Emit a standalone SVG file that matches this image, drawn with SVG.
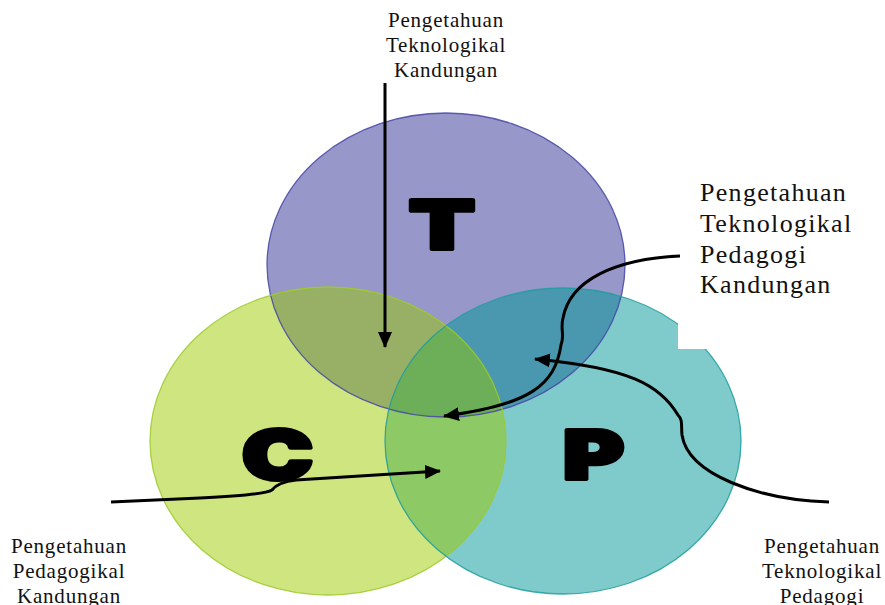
<svg xmlns="http://www.w3.org/2000/svg" width="885" height="605" viewBox="0 0 885 605">
<style>
.lbl{font-family:"Liberation Serif","DejaVu Serif",serif;fill:#111;}
.big{font-family:"Inter","Liberation Sans",sans-serif;font-weight:900;font-size:67px;fill:#000;stroke:#000;stroke-width:4;stroke-linejoin:round;}
.conn{fill:none;stroke:#000;stroke-width:3;}
.ol{fill:none;stroke-width:1.3;}
</style>
<defs>
<ellipse id="eT" cx="446" cy="265" rx="179" ry="152"/>
<ellipse id="eC" cx="328" cy="441" rx="178" ry="154"/>
<ellipse id="eP" cx="563" cy="441" rx="178" ry="153"/>
<clipPath id="cT"><use href="#eT"/></clipPath>
<clipPath id="cC"><use href="#eC"/></clipPath>
<clipPath id="cP"><use href="#eP"/></clipPath>
<marker id="ah" markerUnits="userSpaceOnUse" markerWidth="16" markerHeight="14" refX="15" refY="7" orient="auto">
<path d="M0,0 L16,7 L0,14 z" fill="#000"/>
</marker>
</defs>
<rect width="885" height="605" fill="#fff"/>
<g id="circles">
<use id="circleT" href="#eT" fill="#9897C9"/>
<use id="circleC" href="#eC" fill="#CFE680"/>
<use id="circleP" href="#eP" fill="#7FCBCB"/>
<g clip-path="url(#cT)"><use href="#eC" fill="#98B066"/></g>
<g clip-path="url(#cT)"><use href="#eP" fill="#4A98AF"/></g>
<g clip-path="url(#cC)"><use href="#eP" fill="#8DCA66"/></g>
<g clip-path="url(#cT)"><g clip-path="url(#cC)"><use href="#eP" fill="#6DAF58"/></g></g>
<use href="#eT" class="ol" stroke="#4545A5" stroke-opacity="0.85"/>
<use href="#eC" class="ol" stroke="#9CC92A" stroke-opacity="0.85"/>
<use href="#eP" class="ol" stroke="#1E9C9C" stroke-opacity="0.85"/>
<rect x="678" y="312" width="40" height="37" fill="#fff"/>
</g>
<g id="letters">
<text id="letterT" class="big" x="409" y="249" textLength="66" lengthAdjust="spacingAndGlyphs">T</text>
<text id="letterC" class="big" x="242" y="479" textLength="71" lengthAdjust="spacingAndGlyphs">C</text>
<text id="letterP" class="big" x="563" y="479" textLength="61" lengthAdjust="spacingAndGlyphs">P</text>
</g>
<g id="connectors">
<path class="conn" d="M385,83 L385,347" marker-end="url(#ah)"/>
<path class="conn" d="M680,256 C615,259 570,280 563,318 C560,330 565,335 561,345 C555,385 530,405 444,416" marker-end="url(#ah)"/>
<path class="conn" d="M829,502 C760,500 688,475 682,435 C681,425 683,420 678,415 C660,385 630,368 535,359" marker-end="url(#ah)"/>
<path class="conn" d="M111,502 L200,498 Q264,495 272,490 Q278,482 296,480 L440,471" marker-end="url(#ah)"/>
</g>
<g id="labelTK" class="lbl" font-size="21" text-anchor="middle" letter-spacing="0.8">
<text x="446" y="27">Pengetahuan</text>
<text x="446" y="52">Teknologikal</text>
<text x="446" y="77">Kandungan</text>
</g>
<g id="labelTPK" class="lbl" font-size="26" letter-spacing="1.3">
<text x="700" y="201">Pengetahuan</text>
<text x="700" y="232">Teknologikal</text>
<text x="700" y="263">Pedagogi</text>
<text x="700" y="293">Kandungan</text>
</g>
<g id="labelPK" class="lbl" font-size="21" text-anchor="middle" letter-spacing="0.8">
<text x="69" y="553">Pengetahuan</text>
<text x="69" y="578">Pedagogikal</text>
<text x="69" y="603">Kandungan</text>
</g>
<g id="labelTP" class="lbl" font-size="21" text-anchor="middle" letter-spacing="0.8">
<text x="822" y="553">Pengetahuan</text>
<text x="822" y="578">Teknologikal</text>
<text x="822" y="603">Pedagogi</text>
</g>
</svg>
